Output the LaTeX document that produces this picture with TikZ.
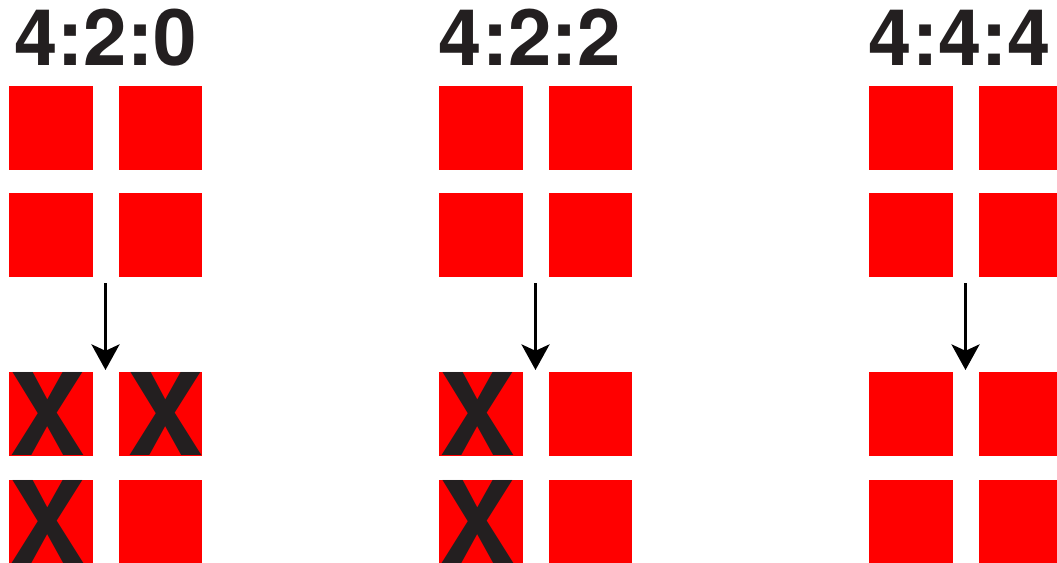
\documentclass[tikz,border=0pt]{standalone}
\usepackage{fontspec}
\setmainfont{TeX Gyre Heros}
\usetikzlibrary{arrows.meta,positioning}
\definecolor{chromared}{RGB}{255,0,0}
\definecolor{inkdark}{RGB}{35,31,32}
\tikzset{
  sample/.style={fill=chromared, minimum width=2.09cm, minimum height=2.09cm,
    inner sep=0pt, anchor=north west},
  dropmark/.style={font=\fontsize{81}{81}\selectfont\bfseries, text=inkdark, inner sep=0pt},
  ratiolbl/.style={font=\fontsize{55.5}{55.5}\selectfont\bfseries, text=inkdark,
    inner sep=0pt, anchor=base},
  guide/.style={-{Stealth[length=0.64cm,width=0.7cm,inset=0.16cm]}, line width=2.3pt},
}

\begin{document}
\begin{tikzpicture}[x=0.025cm, y=-0.025cm]
  \useasboundingbox (0,0) rectangle (1057,562);
  % three groups: name/left edge/title centre/label
  \foreach \g/\xl/\xt/\lbl in {a/9/105.5/4:2:0, b/439/530/4:2:2, c/869/960/4:4:4} {
    \node[ratiolbl] (\g-title) at (\xt,65) {\lbl};
    % full block before subsampling
    \node[sample] (\g-11) at (\xl,86) {};
    \node[sample] (\g-12) at (\xl+109.5,86) {};
    \node[sample] (\g-21) at (\xl,193) {};
    \node[sample] (\g-22) at (\xl+109.5,193) {};
    % block after subsampling
    \node[sample] (\g-31) at (\xl,372) {};
    \node[sample] (\g-32) at (\xl+109.5,372) {};
    \node[sample] (\g-41) at (\xl,480) {};
    \node[sample] (\g-42) at (\xl+109.5,480) {};
    \coordinate (\g-from) at (\xl+96.5,283);
    \coordinate (\g-to) at (\xl+96.5,370);
    \draw[guide] (\g-from) -- (\g-to);
  }
  % dropped chroma samples
  \foreach \s in {a-31,a-41,b-31,b-41} {
    \node[dropmark] (\s-x) at ([xshift=-0.1cm]\s.center) {X};
  }
  \node[dropmark] (a-32-x) at ([xshift=0.125cm]a-32.center) {X};
\end{tikzpicture}
\end{document}
